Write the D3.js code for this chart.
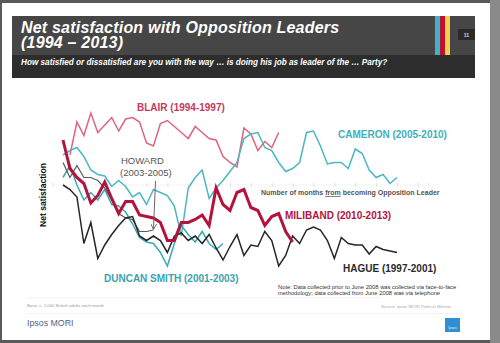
<!DOCTYPE html>
<html><head><meta charset="utf-8">
<script src="https://cdn.jsdelivr.net/npm/d3@7"></script>
<style>
html,body{margin:0;padding:0;background:#5a5a5a;}
svg{display:block;font-family:Arial,"Liberation Sans",sans-serif;}
</style></head>
<body>
<svg id="c" width="500" height="343"></svg>
<script>
// ---- data (net satisfaction, by month from becoming Opposition Leader) ----
const blairStart = 1;
const blair = [20,42,33,48,35,40,45,36,44,45,42,28,26,41,43,39,35,31,39,35,31,30,19,15,12,38,34,23,29,25,35];
const hague = [0,-3,-8,-39,-25,-49,-40,-33,-27,-22,-21,-34,-37,-34,-37,-45,-34,-32,-37,-34,-39,-33,-42,-50,-41,-33,-47,-40,-41,-31,-37,-54,-47,-34,-39,-30,-28,-30,-37,-49,-35,-39,-40,-40,-46,-41,-43,-44,-45];
const duncanSmith = [5,13,0,-10,-5,-10,-3,-13,-14,-18,-26,-35,-38,-39,-45,-54,-39,-27,-33,-38,-31,-39,-43,-39];
const howard = [15,5,13,5,5,3,-2,-10,-19,-22,-23,-31,-31,-30];
const cameron = [20,23,25,19,10,7,6,-1,3,-1,-8,-5,-13,-3,-5,-7,-14,-34,-2,5,10,-9,-2,3,9,15,31,34,35,25,23,15,9,11,15,35,36,26,14,15,15,11,24,21,10,5,7,1,5];
const miliband = [30,11,5,1,-12,-7,2,-9,-19,-11,-11,-20,-21,-22,-25,-37,-37,-25,-25,-23,-20,-27,-2,-13,-17,-5,-3,-15,-17,-27,-21,-19,-31,-38];
const monthTicks = [-1.5,0,3,6,9,12,15,18,21,24,27,30,33,36,39,42,45,48,51,52.5];

const title1 = "Net satisfaction with Opposition Leaders";
const title2 = "(1994 \u2013 2013)";
const subtitle = "How satisfied or dissatisfied are you with the way \u2026 is doing his job as leader of the \u2026 Party?";

const svg = d3.select("#c");

// slide background
svg.append("rect").attr("x",2).attr("y",3).attr("width",488).attr("height",337).attr("fill","#ffffff");
svg.append("rect").attr("x",490).attr("y",0).attr("width",10).attr("height",343).attr("fill","#8a8a8a");

// header
svg.append("rect").attr("x",12).attr("y",16).attr("width",463).attr("height",62).attr("fill","#2c2d2c");
svg.append("rect").attr("x",12).attr("y",16).attr("width",463).attr("height",39).attr("fill","#464646");
[["#3cb4d0",435],["#c0102e",440],["#f2d24a",445]].forEach(([c,x])=>{
  svg.append("rect").attr("x",x).attr("y",16).attr("width",5).attr("height",39).attr("fill",c);
});
svg.append("rect").attr("x",458).attr("y",29).attr("width",17).attr("height",11).attr("fill","#2a2a2a");
svg.append("text").attr("x",466.5).attr("y",36.5).attr("text-anchor","middle").attr("fill","#ddd")
  .attr("font-size",5).attr("font-weight","bold").text("11");
svg.append("text").attr("x",21).attr("y",32.5).attr("fill","#fff").attr("font-size",16)
  .attr("font-weight","bold").attr("font-style","italic").attr("letter-spacing",0.2).text(title1);
svg.append("text").attr("x",21).attr("y",48).attr("fill","#fff").attr("font-size",16)
  .attr("font-weight","bold").attr("font-style","italic").attr("letter-spacing",0.2).text(title2);
svg.append("text").attr("x",21).attr("y",65).attr("fill","#fff").attr("font-size",8.2)
  .attr("font-weight","bold").attr("font-style","italic").text(subtitle);

// scales
const x = d3.scaleLinear().domain([0,48]).range([63,397]);
const y = d3.scaleLinear().domain([-60,50]).range([275,110]);

// zero axis (faint)
svg.append("line").attr("x1",x(-1.5)).attr("x2",x(52.5)).attr("y1",y(0)).attr("y2",y(0))
  .attr("stroke","#ececec").attr("stroke-width",0.6);
const ax = svg.append("g").attr("transform",`translate(0,${y(0)-2})`)
  .call(d3.axisBottom(x).tickValues(monthTicks).tickSize(4).tickFormat(""));
ax.select(".domain").remove();
ax.selectAll(".tick line").attr("stroke","#d6d6d6").attr("stroke-width",0.7);

svg.append("text").attr("x",261).attr("y",195).attr("fill","#555").attr("font-size",7)
  .attr("font-weight","bold")
  .call(t=>{
    t.append("tspan").text("Number of months ");
    t.append("tspan").attr("text-decoration","underline").text("from");
    t.append("tspan").text(" becoming Opposition Leader");
  });

svg.append("text").attr("transform","translate(46,195) rotate(-90)").attr("text-anchor","middle")
  .attr("font-size",8.6).attr("font-weight","bold").attr("fill","#111").text("Net satisfaction");

// lines
const line = d3.line().x(d=>x(d[0])).y(d=>y(d[1]));
function series(arr,start){return arr.map((v,i)=>[i+start,v]);}
const specs = [
  {d:series(blair,blairStart), c:"#e0637f", w:1.5},
  {d:series(cameron,0), c:"#4bb7c1", w:1.5},
  {d:series(duncanSmith,0), c:"#3aa9b3", w:1.5},
  {d:series(howard,0), c:"#5a5a5a", w:1.2},
  {d:series(hague,0), c:"#262626", w:1.5},
  {d:series(miliband,0), c:"#b3133c", w:3}
];
specs.forEach(s=>{
  svg.append("path").attr("d",line(s.d)).attr("fill","none").attr("stroke",s.c)
    .attr("stroke-width",s.w).attr("stroke-linejoin","miter");
});

// labels
function lab(t,xx,yy,c,fs,fw){
  return svg.append("text").attr("x",xx).attr("y",yy).attr("fill",c).attr("font-size",fs)
    .attr("font-weight",fw||"bold").text(t);
}
lab("BLAIR (1994-1997)",137,111,"#c4395c",10);
lab("CAMERON (2005-2010)",338,138,"#3fb0bd",10);
lab("HOWARD",121,164,"#555",9.5,"normal");
lab("(2003-2005)",120,175.5,"#555",9.5,"normal");
lab("MILIBAND (2010-2013)",285,219,"#b3133c",10);
lab("HAGUE (1997-2001)",343,271.5,"#2a2a2a",10);
lab("DUNCAN SMITH (2001-2003)",104,282,"#3aa3ad",10);

// arrow for Howard
svg.append("defs").append("marker").attr("id","ah").attr("viewBox","0 0 10 10").attr("refX",9).attr("refY",5)
  .attr("markerWidth",6).attr("markerHeight",6).attr("orient","auto")
  .append("path").attr("d","M0,0 L10,5 L0,10").attr("fill","none").attr("stroke","#666").attr("stroke-width",1.5);
svg.append("line").attr("x1",155.5).attr("y1",181).attr("x2",153.5).attr("y2",229)
  .attr("stroke","#666").attr("stroke-width",1).attr("marker-end","url(#ah)");

// note
svg.append("text").attr("x",278).attr("y",288.5).attr("fill","#333").attr("font-size",5.8)
  .text("Note: Data collected prior to June 2008 was collected via face-to-face");
svg.append("text").attr("x",278).attr("y",294.5).attr("fill","#333").attr("font-size",5.8)
  .text("methodology; data collected from June 2008 was via telephone");

// footer
svg.append("line").attr("x1",27).attr("x2",380).attr("y1",298).attr("y2",298).attr("stroke","#f0f0f0").attr("stroke-width",0.8);
svg.append("line").attr("x1",27).attr("x2",462).attr("y1",313.5).attr("y2",313.5).attr("stroke","#f0f0f0").attr("stroke-width",0.8);
svg.append("text").attr("x",27).attr("y",307).attr("fill","#999").attr("font-size",4.3)
  .text("Base: c. 1,000 British adults each month");
svg.append("text").attr("x",381).attr("y",307.5).attr("fill","#aaa").attr("font-size",4.3)
  .text("Source: Ipsos MORI Political Monitor");
svg.append("text").attr("x",27).attr("y",326).attr("fill","#4f6191").attr("font-size",8.8)
  .text("Ipsos MORI");
svg.append("rect").attr("x",445).attr("y",318).attr("width",15).attr("height",14).attr("fill","#2f8fd0");
svg.append("text").attr("x",452.5).attr("y",329).attr("text-anchor","middle").attr("fill","#e6f2ff")
  .attr("font-size",3.5).text("Ipsos");
</script>
</body></html>
